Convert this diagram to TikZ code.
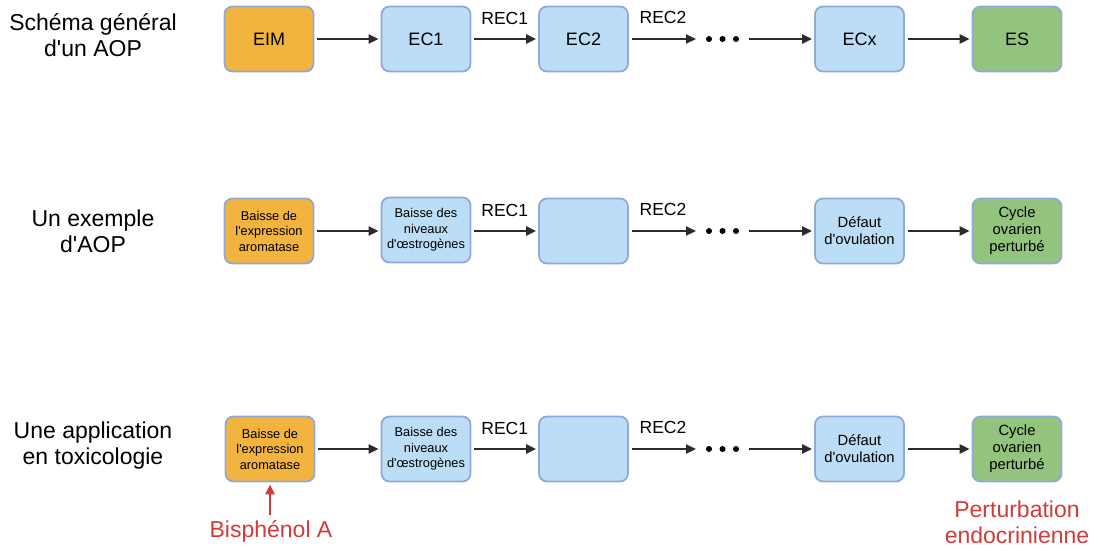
\documentclass[tikz,border=0pt]{standalone}
\usepackage{fontspec}
\setmainfont{Liberation Sans}
\usetikzlibrary{arrows.meta}

\definecolor{mieorange}{HTML}{F2B43F}
\definecolor{ecbleu}{HTML}{BBDDF5}
\definecolor{esvert}{HTML}{93C47D}
\definecolor{bord}{HTML}{91A9D8}
\definecolor{fleche}{HTML}{2B2B2B}
\definecolor{rouge}{HTML}{D03B3B}

\newcommand{\apo}{\textquotesingle}

\tikzset{
  evt/.style={draw=bord, line width=1.8pt, rounded corners=8pt,
    minimum width=89pt, minimum height=65pt, inner sep=0pt, align=center},
  mie/.style={evt, fill=mieorange},
  ecle/.style={evt, fill=ecbleu},
  esor/.style={evt, fill=esvert},
  gros/.style={font=\fontsize{18}{21}\selectfont},
  petit/.style={font=\fontsize{12.8}{15.5}\selectfont},
  moyen/.style={font=\fontsize{14.8}{17}\selectfont},
  titre/.style={align=center, font=\fontsize{23}{26}\selectfont},
  rec/.style={font=\fontsize{17.5}{20}\selectfont},
  fl/.style={draw=fleche, line width=2.2pt, shorten <=3pt, shorten >=2pt,
    -{Triangle[length=10pt,width=9pt]}},
  pt/.style={circle, fill=black, inner sep=0pt, minimum size=6pt}
}

\begin{document}
\begin{tikzpicture}[x=1pt, y=-1pt]

\useasboundingbox (0,0) rectangle (1100,550);

% Schema general
\node[titre] (t1) at (93,35) {Schéma général\\d\apo un AOP};

\node[mie, gros] (a1) at (269,39) {EIM};
\node[ecle, gros] (b1) at (426,39) {EC1};
\node[ecle, gros] (c1) at (583.5,39) {EC2};
\node[ecle, gros] (d1) at (859.5,39) {ECx};
\node[esor, gros] (e1) at (1017,39) {ES};

\coordinate (p1) at (696,39);
\coordinate (q1) at (749,39);
\node[pt] (u1) at (709,39) {};
\node[pt] (v1) at (722.5,39) {};
\node[pt] (w1) at (736,39) {};

\draw[fl] (a1) to (b1);
\draw[fl] (b1) to node[rec, above=10pt] {REC1} (c1);
\draw[fl, shorten >=0pt] (c1) to (p1);
\draw[fl, shorten <=0pt] (q1) to (d1);
\draw[fl] (d1) to (e1);
\node[rec] (r1) at (663,17) {REC2};

% Exemple
\node[titre] (t2) at (93,231) {Un exemple\\d\apo AOP};

\node[mie, petit] (a2) at (269,231) {Baisse de\\l\apo expression\\aromatase};
\node[ecle, petit] (b2) at (426,230) {Baisse des\\niveaux\\d\apo œstrogènes};
\node[ecle] (c2) at (583.5,231) {};
\node[ecle, moyen] (d2) at (859.5,231) {Défaut\\d\apo ovulation};
\node[esor, moyen] (e2) at (1017,231) {Cycle\\ovarien\\perturbé};

\coordinate (p2) at (696,231);
\coordinate (q2) at (749,231);
\node[pt] (u2) at (709,231) {};
\node[pt] (v2) at (722.5,231) {};
\node[pt] (w2) at (736,231) {};

\draw[fl] (a2) to (b2.west |- a2);
\draw[fl] (b2.east |- a2) to node[rec, above=10pt] {REC1} (c2);
\draw[fl, shorten >=0pt] (c2) to (p2);
\draw[fl, shorten <=0pt] (q2) to (d2);
\draw[fl] (d2) to (e2);
\node[rec] (r2) at (663,209) {REC2};

% Application
\node[titre] (t3) at (93,446) {Une application\\en toxicologie};

\node[mie, petit] (a3) at (270,449) {Baisse de\\l\apo expression\\aromatase};
\node[ecle, petit] (b3) at (426,449) {Baisse des\\niveaux\\d\apo œstrogènes};
\node[ecle] (c3) at (583.5,449) {};
\node[ecle, moyen] (d3) at (859.5,449) {Défaut\\d\apo ovulation};
\node[esor, moyen] (e3) at (1017,449) {Cycle\\ovarien\\perturbé};

\coordinate (p3) at (696,449);
\coordinate (q3) at (749,449);
\node[pt] (u3) at (709,449) {};
\node[pt] (v3) at (722.5,449) {};
\node[pt] (w3) at (736,449) {};

\draw[fl] (a3) to (b3);
\draw[fl] (b3) to node[rec, above=10pt] {REC1} (c3);
\draw[fl, shorten >=0pt] (c3) to (p3);
\draw[fl, shorten <=0pt] (q3) to (d3);
\draw[fl] (d3) to (e3);
\node[rec] (r3) at (663,427) {REC2};

\node[titre, text=rouge] (bpa) at (271,531) {Bisphénol A};
\coordinate (s3) at (a3.south |- 0,515);
\draw[fl, draw=rouge, fill=rouge, shorten <=0pt] (s3) to (a3.south);
\node[titre, text=rouge] (pe) at (1017,522) {Perturbation\\endocrinienne};

\end{tikzpicture}
\end{document}
